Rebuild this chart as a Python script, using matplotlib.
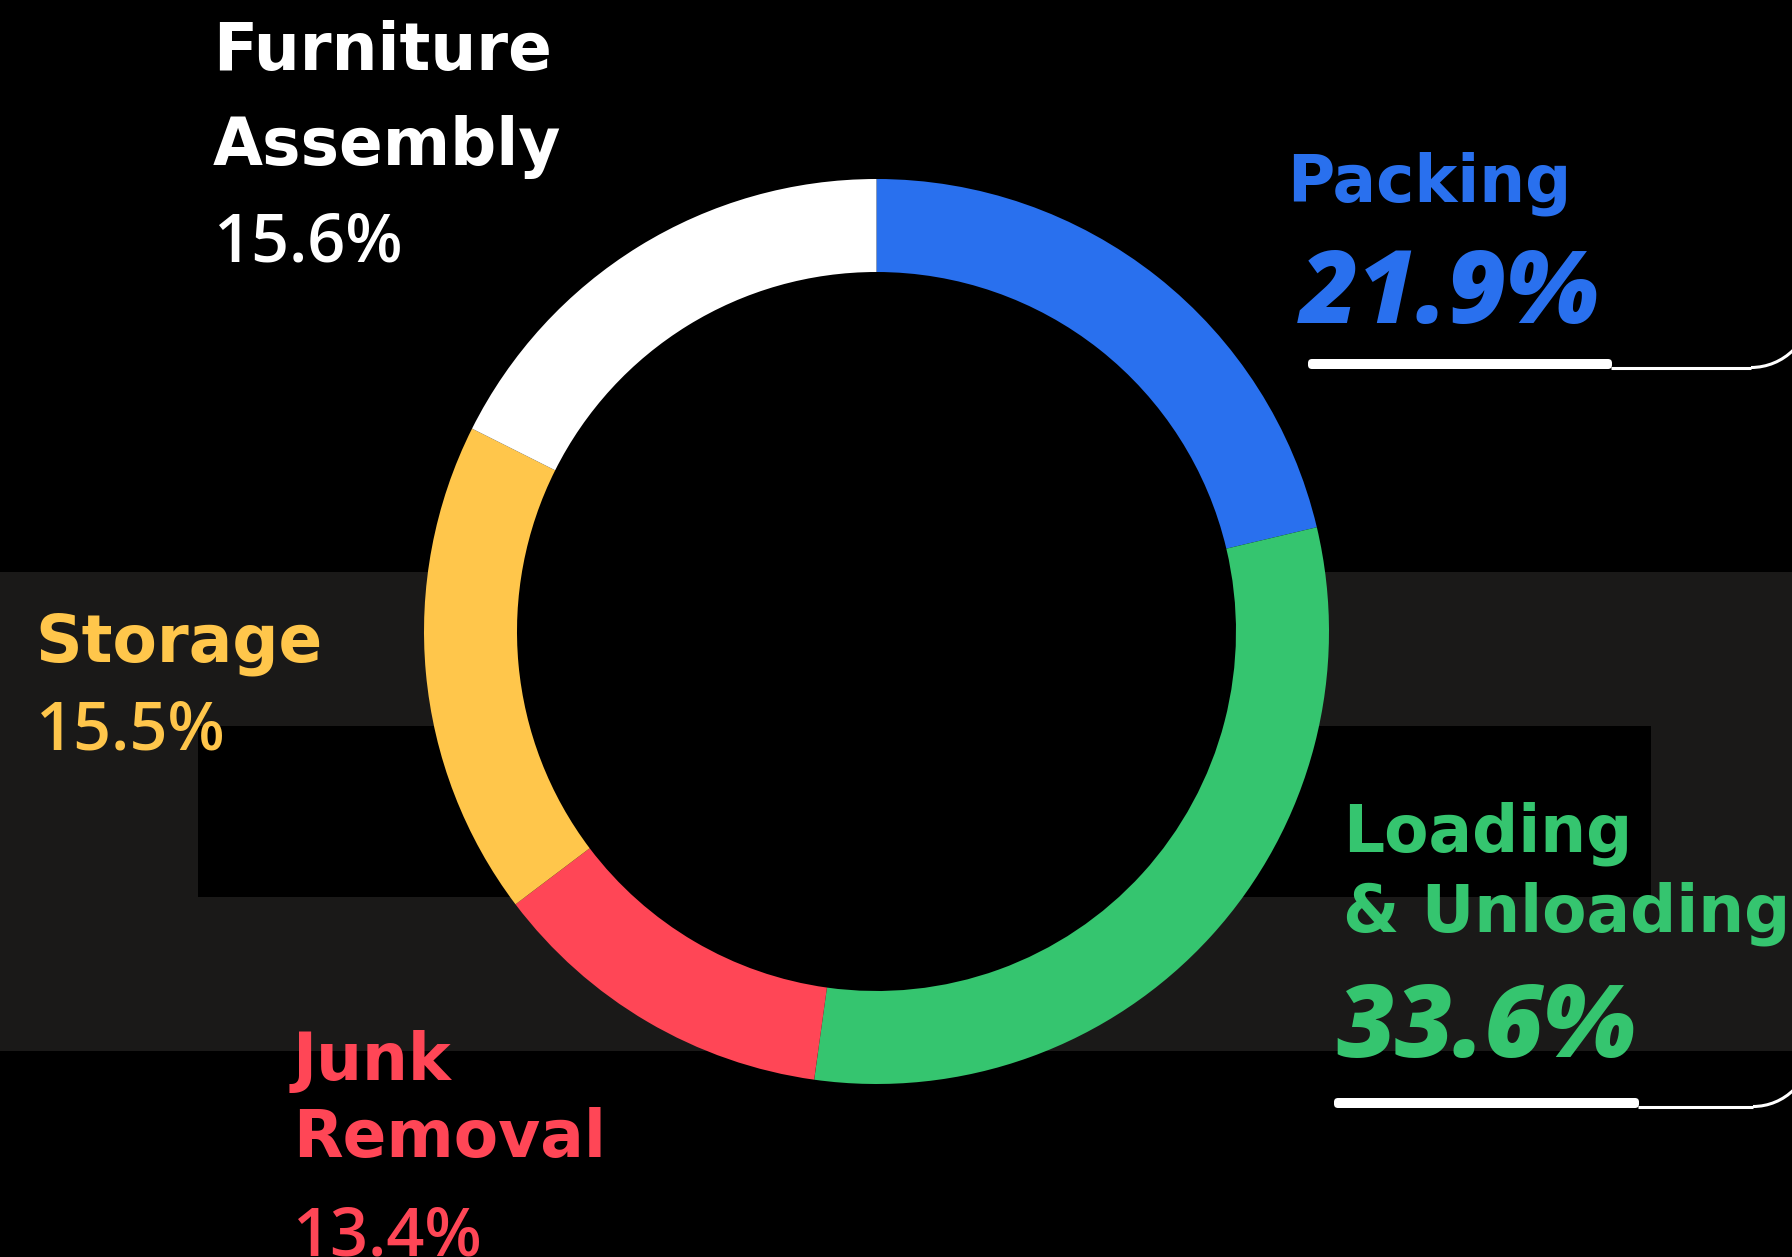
import matplotlib.pyplot as plt
from matplotlib.patches import Rectangle, Circle, FancyBboxPatch, Arc

plt.rcParams['font.family'] = ['Open Sans', 'DejaVu Sans']

W, H = 1792, 1257

services = ["Packing", "Loading & Unloading", "Junk Removal", "Storage", "Furniture Assembly"]
# share of the ring each arc covers
# (the arcs don't follow the printed percentages exactly)
ring_share = [21.3, 30.9, 12.5, 17.7, 17.6]
label_pct = ["21.9%", "33.6%", "13.4%", "15.5%", "15.6%"]
name_lines = [["Packing"], ["Loading", "& Unloading"], ["Junk", "Removal"],
              ["Storage"], ["Furniture", "Assembly"]]
colors = ["#2970ee", "#35c56f", "#ff4656", "#ffc64b", "#ffffff"]


def Y(y):
    # picture rows (top down) -> axes units (bottom up)
    return H - y


fig = plt.figure(figsize=(W / 100, H / 100), dpi=100, facecolor="black")
ax = fig.add_axes([0, 0, 1, 1])
ax.set_facecolor("black")

# background band with a black strip cut in it
ax.add_patch(Rectangle((0, Y(1051)), W, 1051 - 572, color="#1a1918", lw=0, zorder=0))
ax.add_patch(Rectangle((198, Y(897)), 1651 - 198, 897 - 726, color="black", lw=0, zorder=0))

cx, cy = 876.5, Y(631.5)
r_out, r_in = 452.5, 359.5
ax.add_patch(Circle((cx, cy), r_in + 2, color="black", lw=0, zorder=1))

wedges, _ = ax.pie(ring_share, colors=colors, startangle=90, counterclock=False,
                   center=(cx, cy), radius=r_out,
                   wedgeprops=dict(width=r_out - r_in, linewidth=0))
for w in wedges:
    w.set_zorder(2)

# name x, first baseline, line step, pct baseline, pct x, big pct?
layout = {
    "Packing": (1287, 202, 0, 323, 1300, True),
    "Loading & Unloading": (1343, 852, 79, 1057, 1336, True),
    "Junk Removal": (293, 1080, 77, 1255, 293, False),
    "Storage": (35, 662, 0, 750, 36, False),
    "Furniture Assembly": (213, 70, 95, 262, 214, False),
}

for name, lines, pct, col in zip(services, name_lines, label_pct, colors):
    x, y0, step, yp, xp, big = layout[name]
    for i, line in enumerate(lines):
        ax.text(x, Y(y0 + i * step), line, color=col, fontsize=46.5, fontweight="bold",
                family="DejaVu Sans", ha="left", va="baseline", zorder=3)
    if big:
        ax.text(xp, Y(yp), pct, color=col, fontsize=73, fontweight="heavy",
                fontstyle="italic", ha="left", va="baseline", zorder=3)
    else:
        ax.text(xp, Y(yp), pct, color=col, fontsize=48, fontweight="semibold",
                ha="left", va="baseline", zorder=3)

# white underline bars running off to the right edge
for x0, x1, top, bot, xc, rad in [(1304, 1616, 359, 369, 1751, 60),
                                  (1330, 1643, 1098, 1108, 1753, 58)]:
    ax.add_patch(FancyBboxPatch((x0 + 4, Y(bot)), x1 - x0 - 8, bot - top,
                                boxstyle="round,pad=0,rounding_size=4",
                                fc="white", ec="none", zorder=3))
    yl = Y(bot - 1.5)
    ax.plot([x1 - 5, xc], [yl, yl], color="white", lw=2.2, solid_capstyle="butt", zorder=3)
    ax.add_patch(Arc((xc, yl + rad), 2 * rad, 2 * rad, theta1=-90, theta2=0,
                     color="white", lw=2.2, zorder=3))

ax.set_xlim(0, W)
ax.set_ylim(0, H)
ax.set_aspect("auto")
ax.axis("off")

fig.savefig("out.png", dpi=100, facecolor="black")
